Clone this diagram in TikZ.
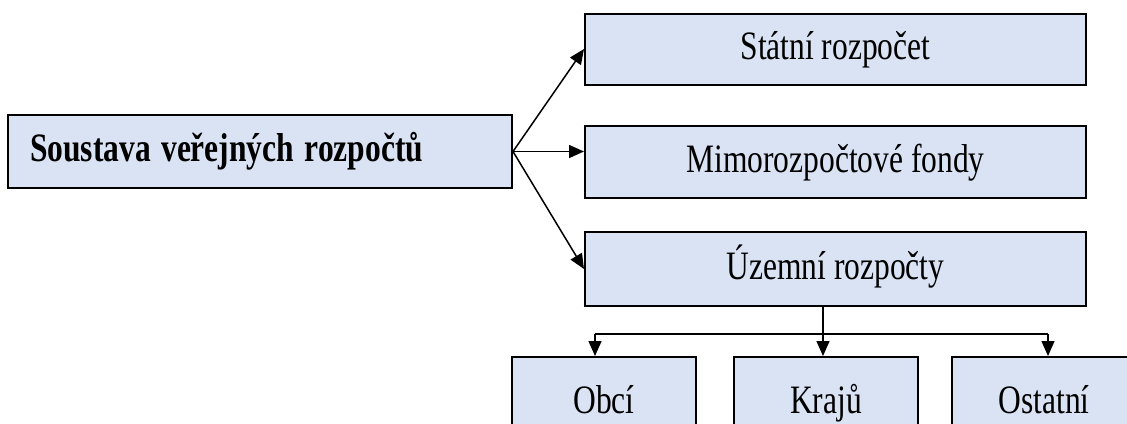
\documentclass[tikz,border=0pt]{standalone}
\usepackage{graphicx}
\usepackage{fontspec}
\setmainfont{Liberation Serif}
\usetikzlibrary{arrows.meta}
\definecolor{boxfill}{HTML}{DAE3F3}
\newcommand{\tallt}[1]{\scalebox{1}[1.28]{#1}}
\tikzset{
  box/.style={draw=black, line width=2pt, fill=boxfill, inner sep=0pt,
    text height=28pt, text depth=8pt,
    font=\fontsize{31.5}{36}\selectfont},
  arr/.style={line width=1.5pt, -{Triangle[length=15pt,width=13pt]}},
  ln/.style={line width=1.5pt}
}
\begin{document}
\begin{tikzpicture}[x=1pt,y=-1pt]
\useasboundingbox (0,0) rectangle (1127,423);
\node[box, minimum width=504pt, minimum height=73pt, text width=460pt, align=left,
      font=\fontsize{31.5}{36}\selectfont\bfseries] (main) at (260,151.5) {\tallt{Soustava veřejných rozpočtů}};
\node[box, minimum width=501pt, minimum height=71pt] (st) at (835.5,49) {\tallt{Státní rozpočet}};
\node[box, minimum width=501pt, minimum height=72pt] (mi) at (835.5,162) {\tallt{Mimorozpočtové fondy}};
\node[box, minimum width=501pt, minimum height=74pt] (uz) at (835.5,269) {\tallt{Územní rozpočty}};
\node[box, minimum width=184pt, minimum height=92pt] (ob) at (604,403) {\tallt{Obcí}};
\node[box, minimum width=184pt, minimum height=92pt] (kr) at (826,403) {\tallt{Krajů}};
\node[box, minimum width=184pt, minimum height=92pt] (os) at (1044,403) {\tallt{Ostatní}};
\draw[arr] (main.east) -- (st.west);
\draw[arr] (main.east) -- (main.east -| mi.west);
\draw[arr] (main.east) -- (uz.west);
\coordinate (j) at (823,334);
\coordinate (jl) at (595,334);
\coordinate (jr) at (1048,334);
\draw[ln] (j |- uz.south) -- (j);
\draw[ln] (jl) -- (jr);
\draw[arr] (j) -- (j |- kr.north);
\draw[arr] (jl) -- (jl |- ob.north);
\draw[arr] (jr) -- (jr |- os.north);
\end{tikzpicture}
\end{document}
